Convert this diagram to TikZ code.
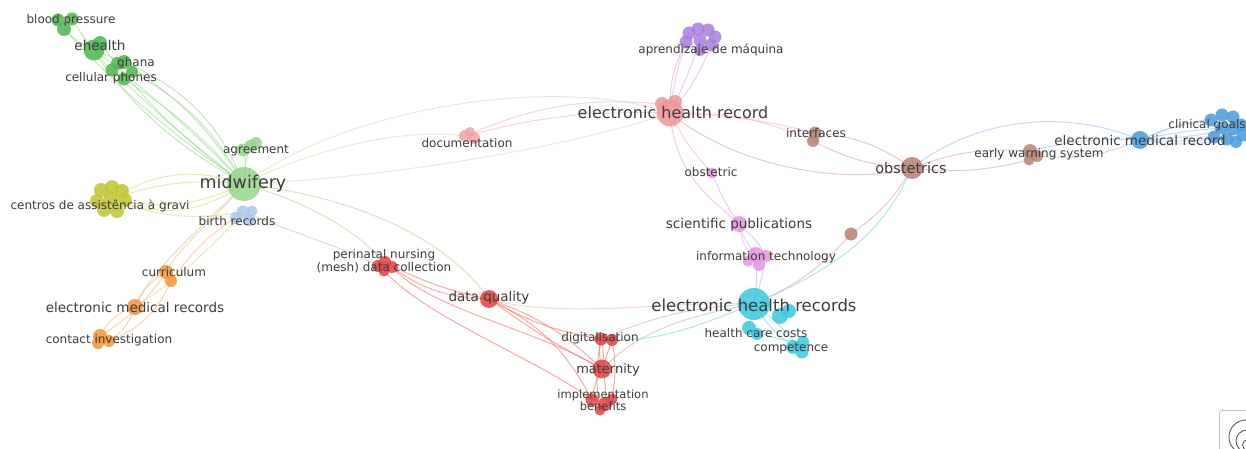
\documentclass[tikz,border=0pt]{standalone}
\usepackage{fontspec}
\setmainfont{DejaVu Sans}
\definecolor{txt}{RGB}{60,60,60}
\definecolor{G}{RGB}{80,182,80}
\definecolor{LG}{RGB}{150,215,140}
\definecolor{LB}{RGB}{172,198,235}
\definecolor{OL}{RGB}{192,196,45}
\definecolor{OR}{RGB}{242,150,55}
\definecolor{PK}{RGB}{240,165,165}
\definecolor{RD}{RGB}{225,65,65}
\definecolor{SA}{RGB}{240,150,150}
\definecolor{PU}{RGB}{170,125,220}
\definecolor{BR}{RGB}{182,130,115}
\definecolor{OP}{RGB}{230,150,225}
\definecolor{BL}{RGB}{75,155,220}
\definecolor{CY}{RGB}{60,200,220}
\definecolor{eG}{RGB}{165,222,155}
\definecolor{eY}{RGB}{212,228,140}
\definecolor{eO}{RGB}{246,190,140}
\definecolor{eR}{RGB}{245,125,115}
\definecolor{eP}{RGB}{245,190,195}
\definecolor{eGP}{RGB}{220,225,190}
\definecolor{eGO}{RGB}{225,200,160}
\definecolor{ePu}{RGB}{230,180,230}
\definecolor{eBr}{RGB}{220,175,165}
\definecolor{eB}{RGB}{165,200,238}
\definecolor{eC}{RGB}{140,215,225}
\definecolor{eGr}{RGB}{200,190,190}
\pgfdeclarelayer{back}
\pgfdeclarelayer{bg}
\pgfsetlayers{back,bg,main}
\begin{document}
\begin{tikzpicture}[x=1pt,y=-1pt,
  dot/.style={circle,fill=#1,fill opacity=0.85,draw=none,inner sep=0pt},
  lb/.style={text=txt,inner sep=0pt,font=\fontsize{12}{13.5}\selectfont,align=center},
  lm/.style={text=txt,inner sep=0pt,font=\fontsize{13.5}{15}\selectfont},
  ll/.style={text=txt,inner sep=0pt,font=\fontsize{16.5}{18}\selectfont},
  e/.style={draw=#1,line width=1pt,opacity=0.65},
]
\begin{pgfonlayer}{back}
\fill[white] (0,0) rectangle (1246,449);
\end{pgfonlayer}
\useasboundingbox (0,0) rectangle (1246,449);

% ---------- green cluster ----------
\node[dot=G,minimum size=13] (bp2) at (58,20) {};
\node[dot=G,minimum size=13] (bp3) at (72,19) {};
\node[dot=G,minimum size=14] (bp) at (64,29) {};
\node[dot=G,minimum size=21] (eh) at (94,50) {};
\node[dot=G,minimum size=14] (eh2) at (100,43) {};
\node[dot=G,minimum size=14] (gh) at (124,62) {};
\node[dot=G,minimum size=12] (gh2) at (117,63) {};
\node[dot=G,minimum size=13] (cp) at (112,70) {};
\node[dot=G,minimum size=13] (cp2) at (124,79) {};
\node[dot=G,minimum size=12] (cp3) at (132,72) {};
\node[dot=LG,minimum size=13] (ag2) at (243,150) {};
\node[dot=LG,minimum size=13] (ag) at (251,146) {};
\node[dot=LG,minimum size=12] (ag3) at (256,143) {};
\node[dot=LG,minimum size=34] (mid) at (244,184) {};
% birth records
\node[dot=LB,minimum size=13] (br) at (243,212) {};
\node[dot=LB,minimum size=12] (br2) at (236,218) {};
\node[dot=LB,minimum size=12] (br3) at (249,220) {};
\node[dot=LB,minimum size=11] (br4) at (252,211) {};
% centros
\node[dot=OL,minimum size=14] (ce1) at (101,190) {};
\node[dot=OL,minimum size=14] (ce2) at (112,187) {};
\node[dot=OL,minimum size=14] (ce3) at (122,191) {};
\node[dot=OL,minimum size=14] (ce4) at (97,201) {};
\node[dot=OL,minimum size=15] (ce) at (111,199) {};
\node[dot=OL,minimum size=14] (ce5) at (125,200) {};
\node[dot=OL,minimum size=14] (ce6) at (104,210) {};
\node[dot=OL,minimum size=14] (ce7) at (117,211) {};
% orange
\node[dot=OR,minimum size=14] (cu) at (166,272) {};
\node[dot=OR,minimum size=12] (cu2) at (171,281) {};
\node[dot=OR,minimum size=16] (emr) at (135,307) {};
\node[dot=OR,minimum size=14] (ci) at (100,336) {};
\node[dot=OR,minimum size=12] (ci2) at (109,341) {};
\node[dot=OR,minimum size=12] (ci3) at (98,343) {};
% documentation
\node[dot=PK,minimum size=12] (doc) at (465,136) {};
\node[dot=PK,minimum size=12] (doc2) at (474,138) {};
\node[dot=PK,minimum size=10] (doc3) at (470,132) {};
% red
\node[dot=RD,minimum size=12] (pn) at (385,262) {};
\node[dot=RD,minimum size=12] (pn2) at (378,266) {};
\node[dot=RD,minimum size=12] (pn3) at (392,267) {};
\node[dot=RD,minimum size=11] (pn4) at (384,271) {};
\node[dot=RD,minimum size=18] (dq) at (489,299) {};
\node[dot=RD,minimum size=13] (dg) at (601,339) {};
\node[dot=RD,minimum size=12] (dg2) at (612,340) {};
\node[dot=RD,minimum size=19] (mt) at (602,369) {};
\node[dot=RD,minimum size=13] (ib) at (592,400) {};
\node[dot=RD,minimum size=14] (ib2) at (605,404) {};
\node[dot=RD,minimum size=11] (ib3) at (600,410) {};
\node[dot=RD,minimum size=11] (ib4) at (612,399) {};
% EHR
\node[dot=SA,minimum size=14] (ehr2) at (662,104) {};
\node[dot=SA,minimum size=14] (ehr3) at (675,102) {};
\node[dot=SA,minimum size=27] (ehr) at (670,113) {};
% aprendizaje
\node[dot=PU,minimum size=13] (ap1) at (689,33) {};
\node[dot=PU,minimum size=13] (ap2) at (698,29) {};
\node[dot=PU,minimum size=13] (ap3) at (708,30) {};
\node[dot=PU,minimum size=13] (ap4) at (715,37) {};
\node[dot=PU,minimum size=13] (ap5) at (686,42) {};
\node[dot=PU,minimum size=13] (ap) at (700,40) {};
\node[dot=PU,minimum size=13] (ap6) at (711,45) {};
\node[dot=PU,minimum size=12] (ap7) at (700,50) {};
% brown
\node[dot=BR,minimum size=13] (if) at (815,133) {};
\node[dot=BR,minimum size=12] (if2) at (813,141) {};
\node[dot=BR,minimum size=22] (obs) at (912,168) {};
\node[dot=BR,minimum size=14] (ew) at (1030,151) {};
\node[dot=BR,minimum size=12] (ew2) at (1037,156) {};
\node[dot=BR,minimum size=11] (ew3) at (1029,160) {};
\node[dot=BR,minimum size=13] (bd) at (851,234) {};
% pink
\node[dot=OP,minimum size=11] (ob) at (712,173) {};
\node[dot=OP,minimum size=16] (sp) at (739,224) {};
\node[dot=OP,minimum size=16] (it) at (756,255) {};
\node[dot=OP,minimum size=12] (it2) at (766,256) {};
\node[dot=OP,minimum size=12] (it3) at (759,265) {};
\node[dot=OP,minimum size=11] (it4) at (748,261) {};
% blue
\node[dot=BL,minimum size=18] (em) at (1140,140) {};
\node[dot=BL,minimum size=13] (cg1) at (1211,120) {};
\node[dot=BL,minimum size=13] (cg2) at (1222,115) {};
\node[dot=BL,minimum size=13] (cg3) at (1233,117) {};
\node[dot=BL,minimum size=13] (cg4) at (1241,125) {};
\node[dot=BL,minimum size=13] (cg) at (1222,128) {};
\node[dot=BL,minimum size=13] (cg5) at (1233,129) {};
\node[dot=BL,minimum size=13] (cg6) at (1243,135) {};
\node[dot=BL,minimum size=13] (cg7) at (1214,137) {};
\node[dot=BL,minimum size=13] (cg8) at (1227,139) {};
\node[dot=BL,minimum size=12] (cg9) at (1236,142) {};
% cyan
\node[dot=CY,minimum size=32] (ehrs) at (754,304) {};
\node[dot=CY,minimum size=16] (ehrs2) at (780,316) {};
\node[dot=CY,minimum size=14] (ehrs3) at (789,311) {};
\node[dot=CY,minimum size=14] (hc) at (749,328) {};
\node[dot=CY,minimum size=12] (hc2) at (757,334) {};
\node[dot=CY,minimum size=14] (co) at (793,347) {};
\node[dot=CY,minimum size=13] (co2) at (802,352) {};
\node[dot=CY,minimum size=12] (co3) at (803,342) {};

% ---------- labels ----------
\node[lb] (l-bp) at (71,20) {blood pressure};
\node[lm] (l-eh) at (100,45) {ehealth};
\node[lb] (l-gh) at (136,63) {ghana};
\node[lb] (l-cp) at (111,78) {cellular phones};
\node[lb] (l-ag) at (256,151) {agreement};
\node[ll,font=\fontsize{17.5}{19}\selectfont] (l-mid) at (243,184) {midwifery};
\node[lb] (l-br) at (237,221) {birth records};
\node[lb] (l-ce) at (100,206) {centros de assistência à gravi};
\node[lb] (l-cu) at (174,272) {curriculum};
\node[lm] (l-emr) at (135,307) {electronic medical records};
\node[lb] (l-ci) at (109,340) {contact investigation};
\node[lb] (l-doc) at (467,143) {documentation};
\node[lb] (l-pn) at (384,261) {perinatal nursing\\(mesh) data collection};
\node[lm] (l-dq) at (489,298) {data quality};
\node[lb] (l-dg) at (600,338) {digitalisation};
\node[lm,font=\fontsize{13}{14}\selectfont] (l-mt) at (608,370) {maternity};
\node[lb,font=\fontsize{11.5}{12}\selectfont] (l-ib) at (603,400) {implementation\\benefits};
\node[ll,font=\fontsize{16}{18}\selectfont] (l-ehr) at (673,113) {electronic health record};
\node[lb] (l-ap) at (711,50) {aprendizaje de máquina};
\node[lb] (l-if) at (816,133) {interfaces};
\node[lb] (l-ob) at (711,172) {obstetric};
\node[lm] (l-sp) at (739,225) {scientific publications};
\node[lb] (l-it) at (766,257) {information technology};
\node[lm,font=\fontsize{14.5}{16}\selectfont] (l-obs) at (911,168) {obstetrics};
\node[lb] (l-ew) at (1039,154) {early warning system};
\node[lm] (l-em) at (1140,140) {electronic medical record};
\node[lb] (l-cg) at (1207,125) {clinical goals};
\node[ll] (l-ehrs) at (754,305) {electronic health records};
\node[lb] (l-hc) at (756,333) {health care costs};
\node[lb] (l-co) at (791,349) {competence};

% ---------- corner widget ----------
\node[draw=black!25,rounded corners=3pt,minimum width=40,minimum height=50,anchor=north west,line width=0.8pt] (wid) at (1219,410) {};
\coordinate (wc1) at (1246,437);
\coordinate (wc2) at (1247,441);
\coordinate (wc3) at (1248,445);
\draw[black!70,line width=0.8pt] (wc1) ++(0,-17) arc (270:90:17);
\draw[black!70,line width=0.8pt] (wc2) ++(0,-11) arc (270:90:11);
\draw[black!70,line width=0.8pt] (wc3) ++(0,-5.5) arc (270:90:5.5);

% ---------- edges ----------
\begin{pgfonlayer}{bg}
% green fan
\draw[e=eG] (mid.center) to[bend left=6] (bp.center);
\draw[e=eG] (mid.center) to[bend left=14] (bp3.center);
\draw[e=eG] (mid.center) to[bend right=4] (eh.center);
\draw[e=eG] (mid.center) to[bend left=8] (eh2.center);
\draw[e=eG] (mid.center) to[bend right=12] (gh.center);
\draw[e=eG] (mid.center) to[bend right=22] (gh.center);
\draw[e=eG] (mid.center) to[bend left=3] (cp.center);
\draw[e=eG] (mid.center) to[bend right=8] (cp2.center);
\draw[e=eG] (mid.center) to[bend right=16] (cp3.center);
\draw[e=eG] (eh.center) to[bend left=10] (bp.center);
\draw[e=eG] (eh.center) -- (gh.center);
\draw[e=eG] (eh.center) to[bend right=10] (cp2.center);
\draw[e=eG] (mid.center) to[bend left=12] (ag.center);
\draw[e=eG] (mid.center) to[bend right=12] (ag2.center);
% centros
\draw[e=eY] (ce.center) to[bend left=25] (mid.center);
\draw[e=eY] (ce.center) to[bend left=12] (mid.center);
\draw[e=eY] (ce.center) to[bend right=18] (mid.center);
\draw[e=eY] (ce.center) to[bend right=28] (mid.center);
\draw[e=eY] (ce.center) to[bend right=15] (br.center);
% midwifery long edges
\draw[e=eGP] (mid.center) .. controls (350,105) and (560,75) .. (ehr.center);
\draw[e=eGP] (mid.center) .. controls (320,145) and (410,128) .. (doc.center);
\draw[e=eGP] (mid.center) .. controls (380,178) and (560,150) .. (ehr.center);
\draw[e=eP] (doc.center) to[bend left=8] (ehr.center);
\draw[e=eP] (doc.center) to[bend left=14] (ehr2.center);
\draw[e=eGO] (mid.center) .. controls (300,200) and (350,225) .. (pn.center);
\draw[e=eGO] (mid.center) .. controls (340,195) and (440,230) .. (dq.center);
\draw[e=eGO] (br.center) .. controls (300,235) and (350,250) .. (pn2.center);
% orange
\draw[e=eGO] (mid.center) .. controls (215,220) and (180,245) .. (cu.center);
\draw[e=eY] (br.center) .. controls (210,250) and (170,285) .. (emr.center);
\draw[e=eO] (br.center) to[bend right=10] (cu2.center);
\draw[e=eO] (mid.center) .. controls (200,230) and (150,270) .. (emr.center);
\draw[e=eO] (cu.center) to[bend right=18] (emr.center);
\draw[e=eO] (cu.center) to[bend left=12] (ci.center);
\draw[e=eO] (cu2.center) to[bend left=22] (ci2.center);
\draw[e=eO] (emr.center) to[bend right=22] (ci.center);
\draw[e=eO] (emr.center) to[bend left=18] (ci2.center);
% red
\draw[e=eR] (pn.center) to[bend right=8] (dq.center);
\draw[e=eR] (pn.center) to[bend right=18] (dq.center);
\draw[e=eR] (pn3.center) .. controls (430,310) and (540,330) .. (mt.center);
\draw[e=eR] (pn4.center) .. controls (430,320) and (540,360) .. (ib.center);
\draw[e=eR] (dq.center) to[bend right=10] (dg.center);
\draw[e=eR] (dq.center) to[bend right=4] (mt.center);
\draw[e=eR] (dq.center) to[bend left=12] (mt.center);
\draw[e=eR] (dq.center) to[bend left=18] (ib.center);
\draw[e=eP] (dq.center) .. controls (560,320) and (680,300) .. (ehrs.center);
\draw[e=eR] (dg.center) to[bend right=12] (mt.center);
\draw[e=eR] (dg.center) to[bend left=12] (mt.center);
\draw[e=eR] (dg2.center) -- (mt.center);
\draw[e=eR] (mt.center) to[bend right=10] (ib.center);
\draw[e=eR] (mt.center) to[bend left=10] (ib2.center);
\draw[e=eR] (dg.center) to[bend right=10] (ib3.center);
\draw[e=eR] (dg2.center) to[bend left=10] (ib4.center);
\draw[e=eGr] (dg.center) to[bend left=10] (ehrs.center);
\draw[e=eGr] (mt.center) .. controls (640,330) and (690,315) .. (ehrs.center);
\draw[e=eC] (dg.center) .. controls (660,345) and (710,320) .. (ehrs.center);
% EHR
\draw[e=ePu] (ehr.center) to[bend left=6] (ap1.center);
\draw[e=ePu] (ehr.center) to[bend right=4] (ap.center);
\draw[e=ePu] (ehr.center) to[bend right=10] (ap6.center);
\draw[e=ePu] (ehr.center) to[bend left=14] (ap5.center);
\draw[e=eP] (ehr.center) to[bend left=6] (if.center);
\draw[e=eP] (ehr.center) to[bend left=12] (if2.center);
\draw[e=eBr] (ehr.center) .. controls (740,170) and (850,185) .. (obs.center);
\draw[e=eP] (ehr.center) to[bend right=8] (ob.center);
\draw[e=ePu] (ob.center) to[bend right=6] (sp.center);
\draw[e=ePu] (ehr.center) .. controls (675,180) and (720,205) .. (sp.center);
\draw[e=ePu] (sp.center) to[bend right=10] (it.center);
\draw[e=ePu] (sp.center) to[bend left=10] (it2.center);
\draw[e=ePu] (sp.center) to[bend right=18] (it3.center);
\draw[e=eB] (it.center) to[bend left=6] (ehrs.center);
\draw[e=ePu] (it2.center) to[bend left=4] (ehrs.center);
% brown / blue
\draw[e=eBr] (if.center) to[bend left=15] (obs.center);
\draw[e=eBr] (if2.center) to[bend right=12] (obs.center);
\draw[e=eBr] (obs.center) to[bend left=12] (ew.center);
\draw[e=eBr] (obs.center) to[bend right=10] (ew3.center);
\draw[e=eB] (obs.center) .. controls (980,115) and (1070,110) .. (em.center);
\draw[e=eB] (ew.center) to[bend left=8] (em.center);
\draw[e=eB] (ew2.center) to[bend right=14] (em.center);
\draw[e=eB] (em.center) to[bend left=8] (cg1.center);
\draw[e=eB] (em.center) to[bend left=4] (cg.center);
\draw[e=eB] (em.center) to[bend right=4] (cg5.center);
\draw[e=eB] (em.center) to[bend right=10] (cg8.center);
\draw[e=eB] (em.center) to[bend right=6] (cg6.center);
\draw[e=eB] (em.center) to[bend left=10] (cg3.center);
\draw[e=eBr] (obs.center) to[bend left=12] (bd.center);
\draw[e=eBr] (bd.center) to[bend left=12] (ehrs.center);
\draw[e=eC] (obs.center) .. controls (880,240) and (830,270) .. (ehrs.center);
% cyan
\draw[e=eC] (ehrs.center) -- (hc.center);
\draw[e=eC] (ehrs.center) to[bend right=10] (co.center);
\draw[e=eC] (ehrs.center) to[bend left=8] (co2.center);
\draw[e=eC] (hc.center) to[bend right=10] (co3.center);
\end{pgfonlayer}
\end{tikzpicture}
\end{document}
